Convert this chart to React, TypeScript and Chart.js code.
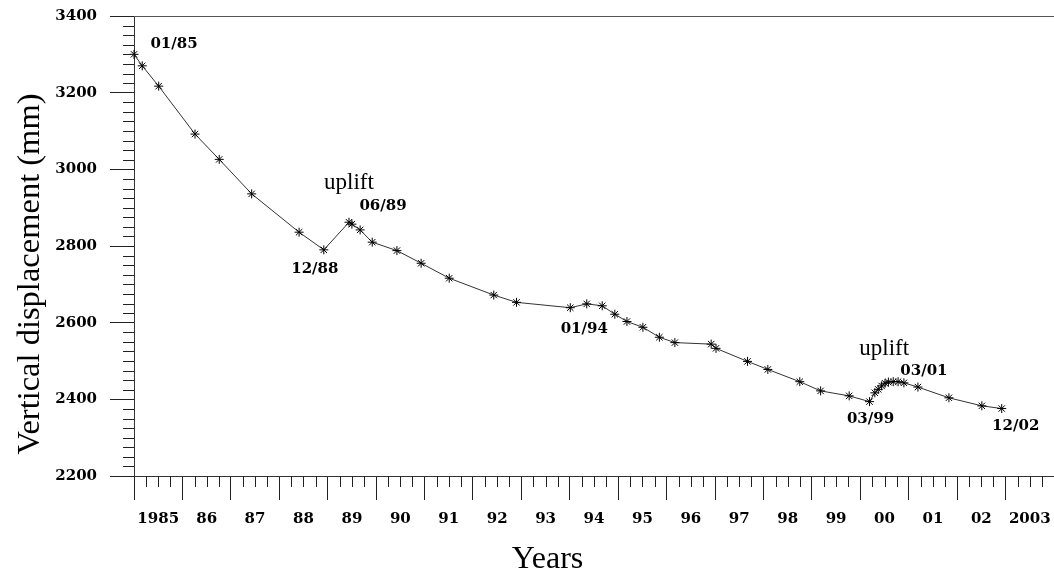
import React, { useEffect, useRef } from 'react';
import { Chart, registerables } from 'chart.js';

Chart.register(...registerables);

// ---- data ----
const years = [
  1985.0, 1985.17, 1985.51, 1986.26, 1986.76, 1987.43, 1988.41, 1988.92,
  1989.44, 1989.5, 1989.67, 1989.92, 1990.43, 1990.93, 1991.51, 1992.43,
  1992.9, 1994.01, 1994.35, 1994.67, 1994.93, 1995.18, 1995.51, 1995.85,
  1996.17, 1996.92, 1997.02, 1997.67, 1998.09, 1998.75, 1999.18, 1999.77,
  2000.19, 2000.3, 2000.37, 2000.44, 2000.51, 2000.58, 2000.68, 2000.78,
  2000.9, 2001.19, 2001.83, 2002.51, 2002.92,
];
const displacement = [
  3300, 3270, 3217, 3092, 3026, 2936, 2836, 2790,
  2862, 2857, 2842, 2810, 2788, 2755, 2716, 2672,
  2653, 2639, 2649, 2644, 2622, 2603, 2588, 2562,
  2548, 2544, 2533, 2499, 2478, 2446, 2422, 2409,
  2394, 2417, 2426, 2435, 2442, 2445, 2446, 2446,
  2443, 2432, 2404, 2383, 2376,
];
const tickYears = [
  1985, 1986, 1987, 1988, 1989, 1990, 1991, 1992, 1993, 1994,
  1995, 1996, 1997, 1998, 1999, 2000, 2001, 2002, 2003,
];
const yearLabels = [
  '1985', '86', '87', '88', '89', '90', '91', '92', '93', '94',
  '95', '96', '97', '98', '99', '00', '01', '02', '2003',
];
const xMin = 1985;
const xMax = 2004;
const yMin = 2200;
const yMax = 3400;
const yLabelStep = 200;
const yMinorStep = 25;
const xMinorStep = 0.25;

const annotationTexts = ['01/85', '12/88', '06/89', 'uplift', '01/94', '03/99', 'uplift', '03/01', '12/02'];
const annotationPoints = [0, 7, 8, 8, 17, 32, 38, 41, 44];

// layout of the annotations (pixel offsets from their data point)
const annotationLayout = [
  { dx: 40, dy: -10, big: false },
  { dx: -9, dy: 19, big: false },
  { dx: 34, dy: -16, big: false },
  { dx: 0, dy: -33, big: true },
  { dx: 14, dy: 21, big: false },
  { dx: 1, dy: 17, big: false },
  { dx: -9, dy: -27, big: true },
  { dx: 6, dy: -16, big: false },
  { dx: 14, dy: 18, big: false },
];

const TICK_FONT = 'DejaVu Serif';
const TITLE_FONT = '"Liberation Serif", "Times New Roman", serif';

const decorPlugin = {
  id: 'decor',
  afterDraw(chart: any) {
    const ctx = chart.ctx;
    const xs = chart.scales.x;
    const ys = chart.scales.y;
    const area = chart.chartArea;
    ctx.save();
    // top border
    ctx.strokeStyle = '#555';
    ctx.lineWidth = 1;
    ctx.beginPath();
    ctx.moveTo(area.left, area.top + 0.5);
    ctx.lineTo(area.right, area.top + 0.5);
    ctx.stroke();
    // minor ticks
    ctx.strokeStyle = '#222';
    ctx.beginPath();
    for (const t of xs.ticks) {
      const v = t.value;
      if (Math.abs(v - Math.round(v)) > 1e-6) {
        const px = Math.round(xs.getPixelForValue(v)) + 0.5;
        ctx.moveTo(px, area.bottom);
        ctx.lineTo(px, area.bottom + 11);
      }
    }
    for (const t of ys.ticks) {
      const v = t.value;
      if (v % yLabelStep !== 0) {
        const py = Math.round(ys.getPixelForValue(v)) + 0.5;
        ctx.moveTo(area.left - 11, py);
        ctx.lineTo(area.left, py);
      }
    }
    ctx.stroke();

    // annotations
    ctx.fillStyle = '#000';
    ctx.textAlign = 'center';
    annotationTexts.forEach((text, i) => {
      const idx = annotationPoints[i];
      const lay = annotationLayout[i];
      const px = xs.getPixelForValue(years[idx]) + lay.dx;
      const py = ys.getPixelForValue(displacement[idx]) + lay.dy;
      if (lay.big) {
        ctx.font = `23px ${TITLE_FONT}`;
        ctx.textBaseline = 'alphabetic';
      } else {
        ctx.font = `bold 15px ${TICK_FONT}`;
        ctx.textBaseline = 'middle';
      }
      ctx.fillText(text, px, py);
    });

    // axis titles
    ctx.font = `32px ${TITLE_FONT}`;
    ctx.textBaseline = 'alphabetic';
    ctx.textAlign = 'center';
    ctx.fillText('Years', area.left + (area.right - area.left) * 0.4495, 568);
    ctx.save();
    ctx.font = `32.5px ${TITLE_FONT}`;
    ctx.translate(30, (area.top + area.bottom) / 2 + 28);
    ctx.rotate(-Math.PI / 2);
    ctx.textBaseline = 'middle';
    ctx.fillText('Vertical displacement (mm)', 0, 0);
    ctx.restore();
    ctx.restore();
  },
};

export default function App() {
  const ref = useRef<HTMLCanvasElement | null>(null);
  useEffect(() => {
    if (!ref.current) return;
    const chart = new Chart(ref.current, {
      type: 'line',
      data: {
        datasets: [
          {
            data: years.map((x, i) => ({ x, y: displacement[i] })),
            borderColor: '#333',
            borderWidth: 1,
            pointStyle: 'star',
            pointRadius: 4.5,
            pointBorderColor: '#000',
            pointBackgroundColor: '#000',
            pointBorderWidth: 1,
            tension: 0,
            clip: false as any,
          },
        ],
      },
      options: {
        responsive: false,
        animation: false,
        layout: { autoPadding: false, padding: { top: 16, left: 0, right: 0, bottom: 0 } },
        plugins: {
          legend: { display: false },
          tooltip: { enabled: false },
        },
        scales: {
          x: {
            type: 'linear',
            min: xMin,
            max: xMax,
            afterFit: (s: any) => {
              s.height = 97;
              s.paddingLeft = 0;
              s.paddingRight = 0;
            },
            border: { display: true, color: '#333', width: 1 },
            grid: {
              drawOnChartArea: false,
              drawTicks: true,
              tickLength: 24,
              tickWidth: 1,
              tickColor: (c: any) =>
                c.tick && Number.isInteger(c.tick.value) ? '#222' : 'rgba(0,0,0,0)',
            },
            ticks: {
              stepSize: xMinorStep,
              autoSkip: false,
              maxRotation: 0,
              minRotation: 0,
              padding: 10,
              color: '#000',
              font: { family: TICK_FONT, size: 15, weight: 'bold' },
              callback: (v: any) => {
                const val = Number(v);
                const i = tickYears.indexOf(Math.floor(val));
                if (Math.abs(val - Math.floor(val) - 0.5) < 1e-6 && i >= 0) return yearLabels[i];
                return '';
              },
            },
          },
          y: {
            type: 'linear',
            min: yMin,
            max: yMax,
            afterFit: (s: any) => {
              s.width = 134;
              s.paddingTop = 0;
              s.paddingBottom = 0;
            },
            border: { display: true, color: '#333', width: 1 },
            grid: {
              drawOnChartArea: false,
              drawTicks: true,
              tickLength: 24,
              tickWidth: 1,
              tickColor: (c: any) =>
                c.tick && c.tick.value % yLabelStep === 0 ? '#222' : 'rgba(0,0,0,0)',
            },
            ticks: {
              stepSize: yMinorStep,
              autoSkip: false,
              padding: 13,
              color: '#000',
              font: { family: TICK_FONT, size: 15, weight: 'bold' },
              callback: (v: any) => (Number(v) % yLabelStep === 0 ? String(v) : ''),
            },
          },
        },
      },
      plugins: [decorPlugin],
    });
    return () => chart.destroy();
  }, []);
  return (
    <div style={{ position: 'absolute', left: 0, top: 0, width: 1054, height: 573, background: '#fff' }}>
      <canvas ref={ref} width={1054} height={573} style={{ display: 'block' }} />
    </div>
  );
}
